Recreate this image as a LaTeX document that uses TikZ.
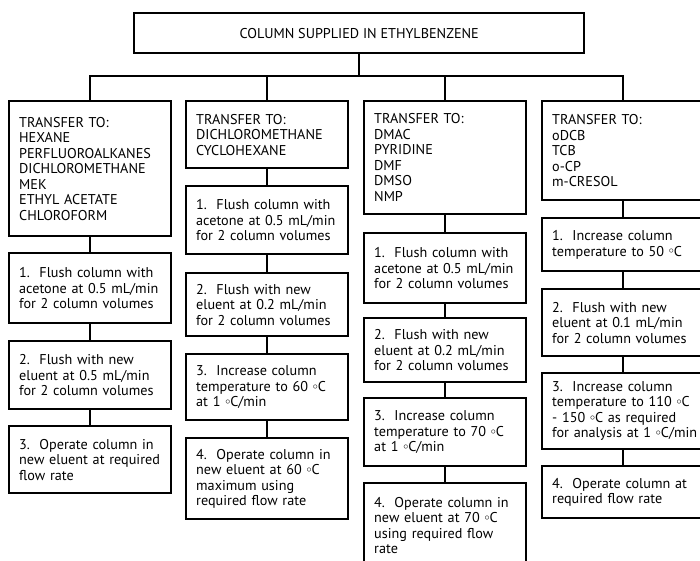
\documentclass[tikz,border=0pt]{standalone}
\usepackage{fontspec}
\usepackage{graphicx}
\setmainfont{PT Sans}
\newcommand\dgc{\raisebox{0.3ex}{$\scriptstyle\circ$}C}
\tikzset{
  lw/.style={line width=2.4pt},
  bx/.style={draw, lw, anchor=north west, text width=142pt, inner xsep=10pt, inner ysep=0pt,
    align=left, font=\fontsize{14.2}{15.5}\selectfont},
  topbx/.style={draw, lw, anchor=north west, minimum width=450pt, minimum height=40pt,
    inner sep=0pt, font=\fontsize{14.2}{15.5}\selectfont},
  conn/.style={lw}
}
\begin{document}
\begin{tikzpicture}[x=1pt,y=-1pt]
\useasboundingbox (0,0) rectangle (700,560);
\clip (0,0) rectangle (700,560);
\fill[white] (0,0) rectangle (700,560);
% top
\node[topbx] (top) at (133,12) {COLUMN SUPPLIED IN ETHYLBENZENE};
\coordinate (hub) at (358,76);
% column 1
\node[bx, minimum height=135pt] (a0) at (8,100) {TRANSFER TO:\\HEXANE\\PERFLUOROALKANES\\DICHLOROMETHANE\\MEK\\ETHYL ACETATE\\CHLOROFORM};
\node[bx, minimum height=70pt] (a1) at (8,252) {1.\ \ Flush column with\\acetone at 0.5 mL/min\\for 2 column volumes};
\node[bx, minimum height=68pt] (a2) at (8,340) {2.\ \ Flush with new\\eluent at 0.5 mL/min\\for 2 column volumes};
\node[bx, minimum height=67pt] (a3) at (8,425) {3.\ \ Operate column in\\new eluent at required\\flow rate};
% column 2
\node[bx, minimum height=67pt] (b0) at (185,100) {TRANSFER TO:\\DICHLOROMETHANE\\CYCLOHEXANE};
\node[bx, minimum height=68pt] (b1) at (185,185) {1.\ \ Flush column with\\acetone at 0.5 mL/min\\for 2 column volumes};
\node[bx, minimum height=63pt] (b2) at (185,272) {2.\ \ Flush with new\\eluent at 0.2 mL/min\\for 2 column volumes};
\node[bx, minimum height=66pt] (b3) at (185,353) {3.\ \ Increase column\\temperature to 60 \dgc\\at 1 \dgc/min};
\node[bx, minimum height=81pt] (b4) at (185,437) {4.\ \ Operate column in\\new eluent at 60 \dgc\\maximum using\\required flow rate};
% column 3
\node[bx, minimum height=113pt] (c0) at (363,100) {TRANSFER TO:\\DMAC\\PYRIDINE\\DMF\\DMSO\\NMP};
\node[bx, minimum height=70pt] (c1) at (363,232) {1.\ \ Flush column with\\acetone at 0.5 mL/min\\for 2 column volumes};
\node[bx, minimum height=64pt] (c2) at (363,317) {2.\ \ Flush with new\\eluent at 0.2 mL/min\\for 2 column volumes};
\node[bx, minimum height=68pt] (c3) at (363,397) {3.\ \ Increase column\\temperature to 70 \dgc\\at 1 \dgc/min};
\node[bx, minimum height=85pt] (c4) at (363,482) {4.\ \ Operate column in\\new eluent at 70 \dgc\\using required flow\\rate};
% column 4
\node[bx, minimum height=99pt] (d0) at (541,100) {TRANSFER TO:\\oDCB\\TCB\\o-CP\\m-CRESOL};
\node[bx, minimum height=53pt] (d1) at (541,217) {1.\ \ Increase column\\temperature to 50 \dgc};
\node[bx, minimum height=67pt] (d2) at (541,288) {2.\ \ Flush with new\\eluent at 0.1 mL/min\\for 2 column volumes};
\node[bx, minimum height=76pt] (d3) at (541,372) {3.\ \ Increase column\\temperature to 110 \dgc\\- 150 \dgc{} as required\\\mbox{for analysis at 1 \dgc/min}};
\node[bx, minimum height=52pt] (d4) at (541,465) {4.\ \ Operate column at\\required flow rate};
% connectors
\draw[conn] (top.south) -- (top.south |- hub);
\draw[conn] (a0.north) -- (a0.north |- hub) -- (d0.north |- hub) -- (d0.north);
\draw[conn] (b0.north) -- (b0.north |- hub);
\draw[conn] (c0.north) -- (c0.north |- hub);
\foreach \p/\q in {a0/a1,a1/a2,a2/a3,b0/b1,b1/b2,b2/b3,b3/b4,c0/c1,c1/c2,c2/c3,c3/c4,d0/d1,d1/d2,d2/d3,d3/d4}
  \draw[conn] (\p.south) -- (\q.north);
\end{tikzpicture}
\end{document}
